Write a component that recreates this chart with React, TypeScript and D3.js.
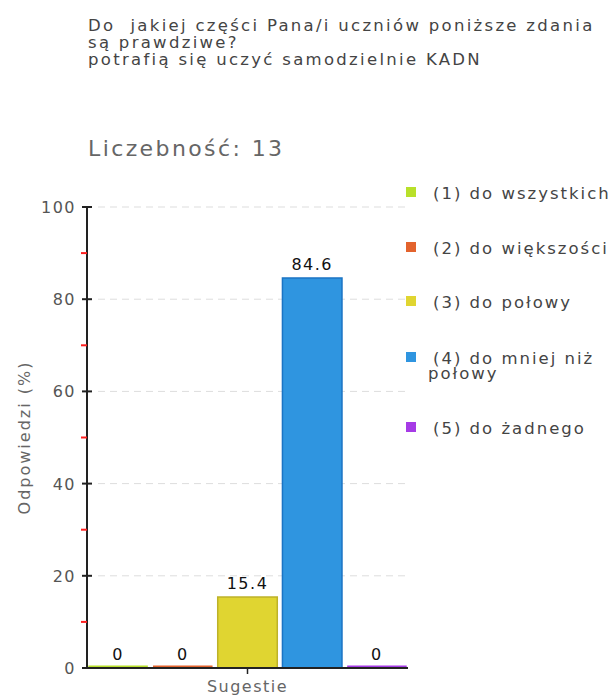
import React from "react";
import * as d3 from "d3";

const titleLines = [
  "Do  jakiej części Pana/i uczniów poniższe zdania",
  "są prawdziwe?",
  "potrafią się uczyć samodzielnie KADN",
];
const countLabel = "Liczebność: 13";
const legendLines = [
  ["(1) do wszystkich"],
  ["(2) do większości"],
  ["(3) do połowy"],
  ["(4) do mniej niż", "połowy"],
  ["(5) do żadnego"],
];
const values = [0, 0, 15.4, 84.6, 0];
const valueLabels = ["0", "0", "15.4", "84.6", "0"];
const colors = ["#b8e02a", "#e3632d", "#e0d531", "#2f95e0", "#a63be6"];
const strokes = ["#9cc11c", "#c94f1e", "#bdb228", "#1b74c4", "#8a28c8"];
const yTicks = [0, 20, 40, 60, 80, 100];
const yMinor = [10, 30, 50, 70, 90];
const xLabel = "Sugestie";
const yLabel = "Odpowiedzi (%)";

const FONT = "'DejaVu Sans', Verdana, sans-serif";

export default function App() {
  const W = 611, H = 697;
  const x0 = 87, x1 = 408;
  const y = d3.scaleLinear().domain([0, 100]).range([668, 207]);
  const xb = d3.scaleBand<number>().domain(d3.range(values.length)).range([x0, x1]).paddingInner(0.08).paddingOuter(0.02);
  const legendY = [199, 254, 308, 364, 434];

  return (
    <svg width={W} height={H} style={{ position: "absolute", left: 0, top: 0 }} fontFamily={FONT}>
      <rect width={W} height={H} fill="#fff" />
      {titleLines.map((t, i) => (
        <text key={i} x={88} y={31 + i * 17} fontSize={16.5} fill="#444" letterSpacing={2.3} style={{ whiteSpace: "pre" }}>{t}</text>
      ))}
      <text x={88} y={156} fontSize={22} fill="#666" letterSpacing={2.4}>{countLabel}</text>

      {yTicks.filter((t) => t > 0).map((t) => (
        <line key={t} x1={98} x2={x1} y1={y(t)} y2={y(t)} stroke="#dddddd" strokeDasharray="7,5" />
      ))}

      {values.map((v, i) => {
        const top = y(v);
        const h = Math.max(y(0) - top, 2.5);
        return (
          <g key={i}>
            <rect x={xb(i)!} y={y(0) - h} width={xb.bandwidth()} height={h}
              fill={colors[i]} stroke={v > 0 ? strokes[i] : colors[i]} strokeWidth={v > 0 ? 1.5 : 0} />
            <text x={xb(i)! + xb.bandwidth() / 2} y={y(v) - 8} textAnchor="middle" fontSize={16} fill="#111" letterSpacing={1.5}>{valueLabels[i]}</text>
          </g>
        );
      })}

      <line x1={x0} x2={x0} y1={y(100)} y2={y(0)} stroke="#222" strokeWidth={2} />
      <line x1={x0} x2={x1} y1={y(0)} y2={y(0)} stroke="#222" strokeWidth={2} />
      {yTicks.map((t) => (
        <g key={t}>
          <line x1={82} x2={92} y1={y(t)} y2={y(t)} stroke="#222" strokeWidth={2} />
          <text x={76} y={y(t) + 6} textAnchor="end" fontSize={16} fill="#555" letterSpacing={1.5}>{t}</text>
        </g>
      ))}
      {yMinor.map((t) => (
        <line key={t} x1={81} x2={87} y1={y(t)} y2={y(t)} stroke="#ff2020" strokeWidth={2} />
      ))}
      <line x1={(x0 + x1) / 2} x2={(x0 + x1) / 2} y1={y(0)} y2={y(0) + 6} stroke="#222" strokeWidth={1.5} />
      <text x={(x0 + x1) / 2} y={692} textAnchor="middle" fontSize={16} fill="#666" letterSpacing={1.5}>{xLabel}</text>
      <text transform={`translate(30, ${y(50)}) rotate(-90)`} textAnchor="middle" fontSize={16} fill="#666" letterSpacing={2}>{yLabel}</text>

      {legendLines.map((lines, i) => (
        <g key={i}>
          <rect x={406} y={legendY[i] - 12} width={10} height={10} fill={colors[i]} />
          {lines.map((l, j) => (
            <text key={j} x={j === 0 ? 433 : 428} y={legendY[i] + j * 15} fontSize={16.5} fill="#444" letterSpacing={2}>{l}</text>
          ))}
        </g>
      ))}
    </svg>
  );
}
